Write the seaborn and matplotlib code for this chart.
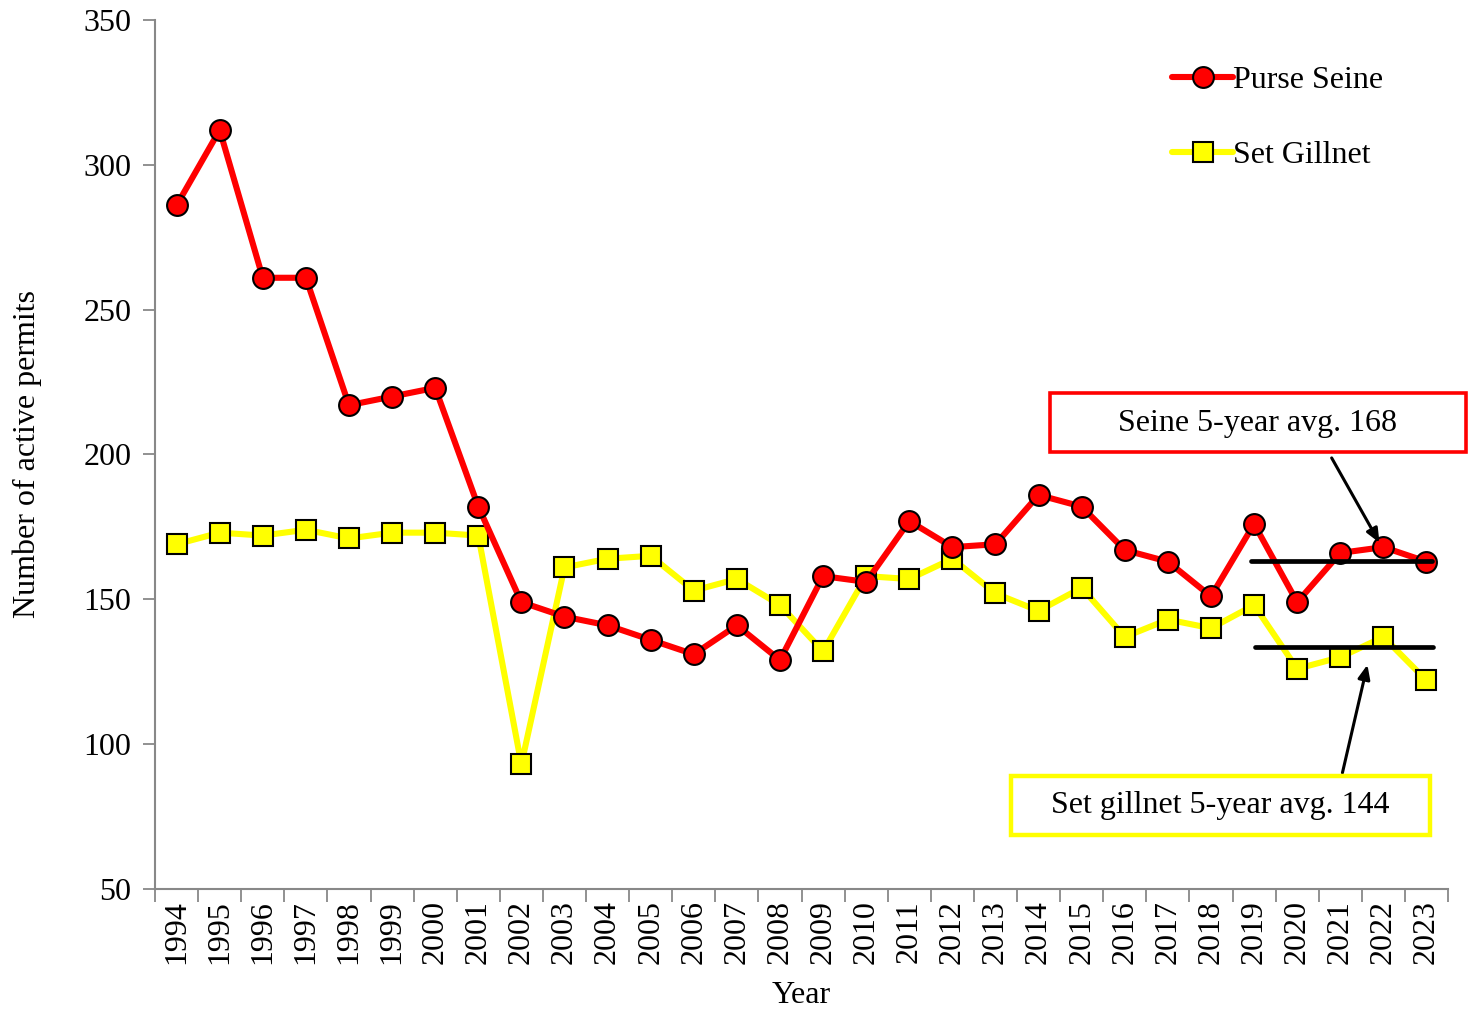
import matplotlib
matplotlib.use("Agg")
import matplotlib.pyplot as plt
import matplotlib.ticker as mticker
from matplotlib.patches import Rectangle
import pandas as pd
import seaborn as sns

years = list(range(1994, 2024))
purse_seine = [286, 312, 261, 261, 217, 220, 223, 182, 149, 144,
               141, 136, 131, 141, 129, 158, 156, 177, 168, 169,
               186, 182, 167, 163, 151, 176, 149, 166, 168, 163]
set_gillnet = [169, 173, 172, 174, 171, 173, 173, 172, 93, 161,
               164, 165, 153, 157, 148, 132, 158, 157, 164, 152,
               146, 154, 137, 143, 140, 148, 126, 130, 137, 122]
seine_avg_line = 163.3
gillnet_avg_line = 133.6
seine_label = "Seine 5-year avg. 168"
gillnet_label = "Set gillnet 5-year avg. 144"

FS = 23

sns.set_theme(style="white")
plt.rcParams["font.family"] = ["Liberation Serif", "DejaVu Serif"]
plt.rcParams["text.color"] = "black"
plt.rcParams["axes.labelcolor"] = "black"
plt.rcParams["xtick.color"] = "black"
plt.rcParams["ytick.color"] = "black"

df = pd.DataFrame({"Year": years, "Purse Seine": purse_seine, "Set Gillnet": set_gillnet})

fig = plt.figure(figsize=(14.68, 10.09), dpi=100)
ax = fig.add_axes([0.1056, 0.119, 0.8808, 0.8612])

sns.lineplot(data=df, x="Year", y="Purse Seine", ax=ax, color="#ff0000", lw=4.4,
             marker="o", markersize=15, markerfacecolor="#ff0000",
             markeredgecolor="black", markeredgewidth=1.5, label="Purse Seine")
sns.lineplot(data=df, x="Year", y="Set Gillnet", ax=ax, color="#ffff00", lw=4.4,
             marker="s", markersize=14, markerfacecolor="#ffff00",
             markeredgecolor="black", markeredgewidth=1.5, label="Set Gillnet", zorder=1.9)

# 5-year average lines
ax.plot([2018.94, 2023.12], [seine_avg_line] * 2, color="black", lw=3.4, zorder=3, clip_on=False)
ax.plot([2019.03, 2023.14], [gillnet_avg_line] * 2, color="black", lw=3.4, zorder=3, clip_on=False)

ax.set_xlim(1993.5, 2023.5)
ax.set_ylim(50, 350)
ax.set_yticks(range(50, 351, 50))
ax.set_xticks(years)
ax.set_xticklabels([str(y) for y in years], rotation=90, fontsize=FS)
ax.xaxis.set_minor_locator(mticker.FixedLocator([y + 0.5 for y in range(1993, 2024)]))
ax.tick_params(axis="x", which="major", length=0, pad=8)
ax.tick_params(axis="x", which="minor", length=9, width=1.3, color="#888888", direction="out")
ax.tick_params(axis="y", which="major", length=9, width=1.3, color="#888888", direction="out",
               labelsize=FS, pad=8)
ax.xaxis.set_tick_params(bottom=True, which="minor")
ax.yaxis.set_tick_params(left=True)

for side in ["top", "right"]:
    ax.spines[side].set_visible(False)
for side in ["left", "bottom"]:
    ax.spines[side].set_color("#888888")
    ax.spines[side].set_linewidth(1.5)

ax.set_xlabel("Year", fontsize=FS, labelpad=12)
ax.set_ylabel("Number of active permits", fontsize=FS, labelpad=30)

leg = ax.legend(loc="upper left", bbox_to_anchor=(0.777, 0.962), frameon=False, fontsize=FS,
                labelspacing=1.43, handlelength=1.9, handletextpad=0.0, borderaxespad=0)

# annotation boxes
ax.add_patch(Rectangle((2014.26, 200.9), 9.65, 20.35, fill=False, ec="#ff0000", lw=2.6,
                       clip_on=False, zorder=5))
ax.text(2019.08, 210.6, seine_label, fontsize=FS, ha="center", va="center", zorder=6)
ax.annotate("", xy=(2021.91, 169.5), xytext=(2020.8, 198.8),
            arrowprops=dict(arrowstyle="-|>,head_length=0.7,head_width=0.3", color="black", lw=2.2,
                            shrinkA=0, shrinkB=0))

ax.add_patch(Rectangle((2013.37, 68.7), 9.7, 20.35, fill=False, ec="#ffff00", lw=3.2,
                       clip_on=False, zorder=5))
ax.text(2018.22, 78.8, gillnet_label, fontsize=FS, ha="center", va="center", zorder=6)
ax.annotate("", xy=(2021.63, 127.4), xytext=(2021.05, 90.1),
            arrowprops=dict(arrowstyle="-|>,head_length=0.7,head_width=0.3", color="black", lw=2.2,
                            shrinkA=0, shrinkB=0))

fig.savefig("out.png", dpi=100)
